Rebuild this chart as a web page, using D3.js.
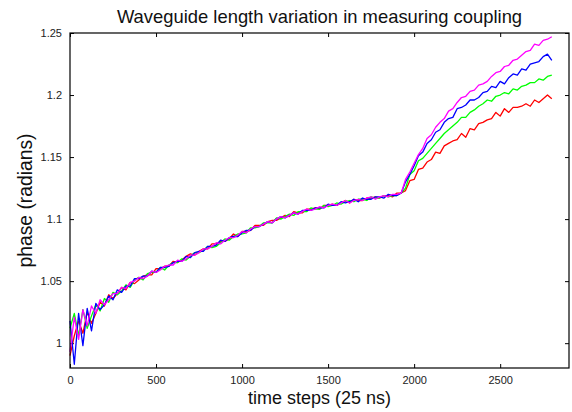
<!DOCTYPE html>
<html>
<head>
<meta charset="utf-8">
<script src="https://cdn.jsdelivr.net/npm/d3@7"></script>
<style>
  body { margin: 0; background: #fff; }
  svg { display: block; font-family: "Liberation Sans", Arial, sans-serif; }
</style>
</head>
<body>
<svg id="chart" width="572" height="412"></svg>
<script>
// time axis: one sample every 25 steps, 0 .. 2800
var steps = d3.range(0, 2825, 25);

var xTicks = [0, 500, 1000, 1500, 2000, 2500];
var yTicks = [1, 1.05, 1.1, 1.15, 1.2, 1.25];

// phase, one value per sample
var redPhase = [
  0.990,1.006,1.018,1.008,1.025,1.016,1.024,1.033,1.030,1.039,1.036,1.040,1.045,1.043,1.049,1.048,
  1.051,1.054,1.055,1.055,1.060,1.060,1.062,1.062,1.066,1.065,1.067,1.070,1.072,1.071,1.074,1.076,
  1.076,1.080,1.080,1.082,1.082,1.084,1.088,1.086,1.090,1.090,1.091,1.095,1.095,1.095,1.098,1.099,
  1.099,1.101,1.103,1.102,1.106,1.105,1.105,1.108,1.108,1.109,1.108,1.111,1.111,1.112,1.111,1.113,
  1.115,1.113,1.116,1.115,1.115,1.117,1.117,1.118,1.117,1.119,1.119,1.118,1.121,1.121,
  1.123,1.131,1.132,1.140,1.141,1.146,1.148,1.154,1.153,1.159,1.161,1.163,1.164,1.169,1.166,1.173,
  1.172,1.177,1.178,1.180,1.181,1.186,1.183,1.189,1.186,1.190,1.190,1.191,1.193,1.191,1.196,1.194,
  1.197,1.200,1.197
];
var greenPhase = [
  1.012,1.024,1.006,1.027,1.012,1.022,1.031,1.026,1.036,1.033,1.041,1.039,1.042,1.047,1.045,1.051,
  1.053,1.051,1.056,1.057,1.057,1.061,1.059,1.063,1.065,1.065,1.068,1.067,1.070,1.073,1.073,1.075,
  1.078,1.077,1.078,1.081,1.084,1.083,1.086,1.088,1.088,1.089,1.093,1.093,1.094,1.097,1.097,1.097,
  1.101,1.100,1.102,1.104,1.103,1.106,1.106,1.106,1.109,1.108,1.108,1.111,1.110,1.111,1.113,1.112,
  1.114,1.115,1.114,1.116,1.116,1.115,1.118,1.117,1.117,1.119,1.118,1.119,1.119,1.121,
  1.125,1.136,1.139,1.147,1.149,1.153,1.157,1.161,1.165,1.169,1.172,1.175,1.178,1.182,1.182,1.186,
  1.188,1.191,1.193,1.196,1.195,1.199,1.200,1.202,1.201,1.205,1.204,1.207,1.208,1.210,1.210,1.213,
  1.212,1.215,1.216
];
var bluePhase = [
  1.018,0.983,1.024,0.998,1.028,1.010,1.032,1.027,1.031,1.038,1.035,1.043,1.041,1.046,1.046,1.052,
  1.052,1.054,1.054,1.058,1.057,1.061,1.061,1.062,1.065,1.066,1.066,1.070,1.069,1.073,1.074,1.074,
  1.078,1.078,1.079,1.083,1.082,1.085,1.086,1.086,1.089,1.091,1.091,1.094,1.094,1.096,1.098,1.097,
  1.100,1.102,1.101,1.103,1.105,1.104,1.107,1.107,1.107,1.109,1.109,1.109,1.112,1.111,1.111,1.114,
  1.113,1.114,1.116,1.114,1.117,1.116,1.116,1.118,1.118,1.117,1.120,1.119,1.119,1.121,
  1.130,1.136,1.143,1.151,1.154,1.161,1.164,1.170,1.172,1.178,1.181,1.182,1.189,1.190,1.192,1.196,
  1.196,1.198,1.202,1.203,1.207,1.206,1.211,1.209,1.214,1.217,1.216,1.221,1.220,1.225,1.226,1.227,
  1.231,1.233,1.228
];
var magentaPhase = [
  0.993,1.021,1.003,1.027,1.014,1.030,1.024,1.035,1.031,1.035,1.040,1.040,1.045,1.044,1.049,1.050,
  1.053,1.052,1.054,1.058,1.057,1.059,1.062,1.063,1.063,1.067,1.066,1.068,1.071,1.071,1.073,1.076,
  1.076,1.078,1.081,1.080,1.083,1.085,1.085,1.087,1.090,1.089,1.092,1.094,1.094,1.096,1.098,1.097,
  1.100,1.102,1.101,1.103,1.105,1.104,1.106,1.108,1.107,1.108,1.110,1.109,1.111,1.112,1.111,1.113,
  1.115,1.113,1.115,1.116,1.115,1.117,1.118,1.116,1.118,1.119,1.118,1.120,1.120,1.121,
  1.132,1.138,1.145,1.152,1.157,1.165,1.168,1.174,1.178,1.181,1.187,1.189,1.194,1.198,1.199,1.203,
  1.204,1.208,1.209,1.211,1.215,1.218,1.219,1.223,1.224,1.228,1.229,1.232,1.235,1.236,1.241,1.240,
  1.244,1.245,1.247
];

var seriesList = [
  {name: "red", color: "#ff0000", values: redPhase},
  {name: "green", color: "#00ff00", values: greenPhase},
  {name: "blue", color: "#0000ff", values: bluePhase},
  {name: "magenta", color: "#ff00ff", values: magentaPhase}
];

var margin = {top: 33, right: 3, bottom: 44, left: 70};
var W = 572, H = 412;
var iw = W - margin.left - margin.right, ih = H - margin.top - margin.bottom;

var svg = d3.select("#chart");
var g = svg.append("g").attr("transform", "translate(" + margin.left + "," + margin.top + ")");

var x = d3.scaleLinear().domain([0, 2900]).range([0, iw]);
var y = d3.scaleLinear().domain([0.98, 1.25]).range([ih, 0]);

var fmt = function(d){ return String(+d.toFixed(2)); };

// axes, gnuplot style: inward ticks mirrored on all sides
g.append("g").attr("transform", "translate(0," + ih + ")")
  .call(d3.axisBottom(x).tickValues(xTicks).tickSizeInner(-4).tickSizeOuter(0).tickPadding(8).tickFormat(d3.format("d")));
g.append("g")
  .call(d3.axisTop(x).tickValues(xTicks).tickSizeInner(-4).tickSizeOuter(0).tickFormat(""));
g.append("g")
  .call(d3.axisLeft(y).tickValues(yTicks).tickSizeInner(-4).tickSizeOuter(0).tickPadding(8).tickFormat(fmt));
g.append("g").attr("transform", "translate(" + iw + ",0)")
  .call(d3.axisRight(y).tickValues(yTicks).tickSizeInner(-4).tickSizeOuter(0).tickFormat(""));

g.selectAll(".domain").remove();
g.selectAll(".tick line").attr("stroke", "#000");
g.selectAll(".tick text").attr("font-size", 11).attr("fill", "#222")
  .attr("font-family", "'Liberation Sans', Arial, sans-serif");

var line = d3.line()
  .x(function(d, i){ return x(steps[i]); })
  .y(function(d){ return y(d); });

g.selectAll("path.series")
  .data(seriesList)
  .enter().append("path")
  .attr("class", "series")
  .attr("fill", "none")
  .attr("stroke", function(d){ return d.color; })
  .attr("stroke-width", 1.3)
  .attr("stroke-linejoin", "round")
  .attr("d", function(d){ return line(d.values); });

g.append("rect")
  .attr("x", 0).attr("y", 0).attr("width", iw).attr("height", ih)
  .attr("fill", "none").attr("stroke", "#000").attr("stroke-width", 1.2);

svg.append("text")
  .attr("x", margin.left + iw / 2).attr("y", 23)
  .attr("text-anchor", "middle").attr("font-size", 18.4).attr("fill", "#111")
  .text("Waveguide length variation in measuring coupling");

svg.append("text")
  .attr("x", margin.left + iw / 2).attr("y", 404)
  .attr("text-anchor", "middle").attr("font-size", 18).attr("fill", "#111")
  .text("time steps (25 ns)");

svg.append("text")
  .attr("transform", "translate(32," + (margin.top + ih / 2) + ") rotate(-90)")
  .attr("text-anchor", "middle").attr("font-size", 19.3).attr("fill", "#111")
  .text("phase (radians)");
</script>
</body>
</html>
